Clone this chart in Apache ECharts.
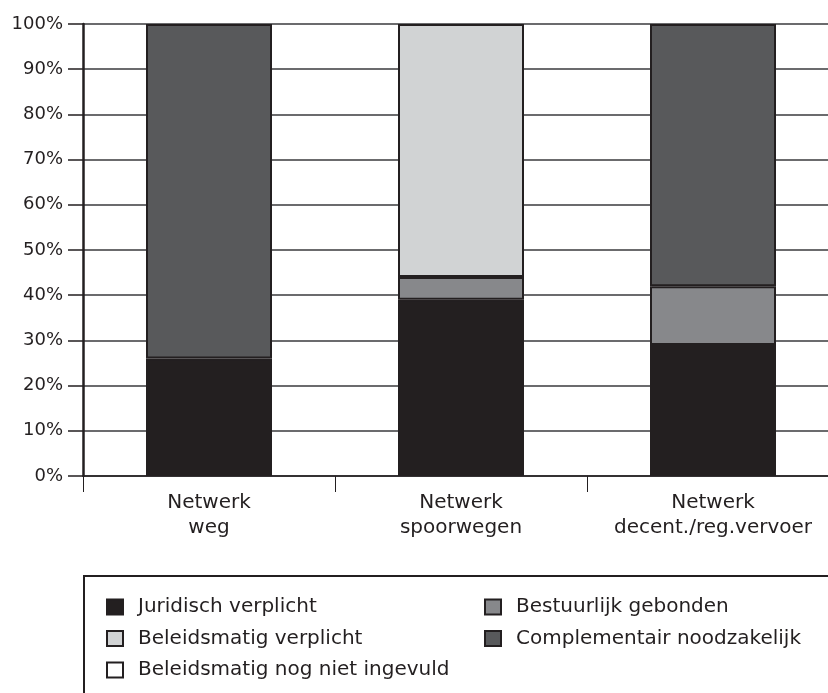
<!DOCTYPE html>
<html>
<head>
<meta charset="utf-8">
<script src="https://cdn.jsdelivr.net/npm/echarts@6/dist/echarts.min.js"></script>
<style>
  html, body { margin: 0; padding: 0; background: #fff; }
  #chart { width: 828px; height: 693px; }
</style>
</head>
<body>
<div id="chart"></div>
<script>
// categorieën en aandelen (%)
const categories = ['Netwerk\nweg', 'Netwerk\nspoorwegen', 'Netwerk\ndecent./reg.vervoer']
const juridisch = [26, 39, 29]
const bestuurlijk = ['-', 5, 13]
const beleidsmatig = ['-', 56, '-']
const complementair = [74, '-', 58]
const nietIngevuld = ['-', '-', '-']

const font = 'DejaVu Sans, Liberation Sans, sans-serif'
const edge = '#231f20'

const chart = echarts.init(document.getElementById('chart'))

const bar = (name, data, color) => ({
    name: name,
    type: 'bar',
    stack: 'totaal',
    barWidth: '50%',
    data: data,
    itemStyle: { color: color, borderColor: edge, borderWidth: 2 },
})

const legendText = { fontSize: 20, lineHeight: 20, color: '#231f20', fontFamily: font, padding: [0, 0, 0, 10] }

chart.setOption({
    animation: false,
    textStyle: { fontFamily: font },
    grid: { left: 83, top: 24, height: 452, width: 756, outerBoundsMode: 'none', containLabel: false },
    xAxis: {
        type: 'category',
        data: categories,
        axisLine: { lineStyle: { color: edge, width: 1.5 } },
        axisTick: { show: true, length: 16, lineStyle: { color: edge, width: 1 } },
        axisLabel: { interval: 0, hideOverlap: false, color: '#231f20', fontSize: 20, lineHeight: 25, margin: 14, fontFamily: font },
    },
    yAxis: {
        type: 'value',
        min: 0,
        max: 100,
        interval: 10,
        axisLine: { show: true, lineStyle: { color: edge, width: 2.5 } },
        axisTick: { show: true, length: 15, lineStyle: { color: edge, width: 1.5 } },
        axisLabel: { formatter: '{value}%', color: '#231f20', fontSize: 18, margin: 20, fontFamily: font },
        splitLine: { lineStyle: { color: '#3a3a3c', width: 1.5 } },
    },
    legend: [
        {
            left: 106,
            top: 597,
            padding: 0,
            orient: 'vertical',
            itemGap: 11.5,
            itemWidth: 16,
            itemHeight: 15,
            icon: 'rect',
            textStyle: legendText,
            data: ['Juridisch verplicht', 'Beleidsmatig verplicht', 'Beleidsmatig nog niet ingevuld'],
        },
        {
            left: 484,
            top: 597,
            padding: 0,
            orient: 'vertical',
            itemGap: 11.5,
            itemWidth: 16,
            itemHeight: 15,
            icon: 'rect',
            textStyle: legendText,
            data: ['Bestuurlijk gebonden', 'Complementair noodzakelijk'],
        },
    ],
    graphic: [
        {
            type: 'rect',
            shape: { x: 84, y: 576, width: 800, height: 200 },
            style: { fill: 'none', stroke: edge, lineWidth: 2 },
            silent: true,
        },
    ],
    series: [
        bar('Juridisch verplicht', juridisch, '#231f20'),
        bar('Bestuurlijk gebonden', bestuurlijk, '#87888b'),
        bar('Beleidsmatig verplicht', beleidsmatig, '#d1d3d4'),
        bar('Complementair noodzakelijk', complementair, '#58595b'),
        bar('Beleidsmatig nog niet ingevuld', nietIngevuld, '#ffffff'),
    ],
})
</script>
</body>
</html>
